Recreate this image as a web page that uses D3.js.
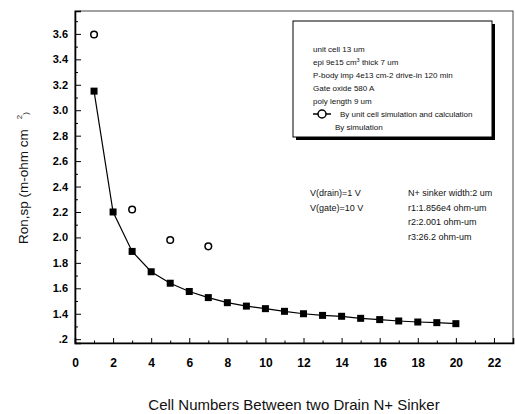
<!DOCTYPE html>
<html>
<head>
<meta charset="utf-8">
<script src="https://cdn.jsdelivr.net/npm/d3@7"></script>
<style>
  body { margin: 0; background: #fff; }
  svg { display: block; font-family: "Liberation Sans", Arial, sans-serif; }
</style>
</head>
<body>
<div id="chart"></div>
<script>
// datos
var cells = [1, 2, 3, 4, 5, 6, 7, 8, 9, 10, 11, 12, 13, 14, 15, 16, 17, 18, 19, 20];
var ronSim = [3.15, 2.20, 1.89, 1.73, 1.64, 1.575, 1.527, 1.487, 1.46, 1.44,
              1.419, 1.40, 1.387, 1.38, 1.364, 1.354, 1.343, 1.335, 1.33, 1.322];
var calcCells = [1, 3, 5, 7];
var ronCalc = [3.595, 2.22, 1.98, 1.93];

var xTicks = [0, 2, 4, 6, 8, 10, 12, 14, 16, 18, 20, 22];
var yTicks = [1.2, 1.4, 1.6, 1.8, 2.0, 2.2, 2.4, 2.6, 2.8, 3.0, 3.2, 3.4, 3.6];
var yTickLabels = [".2", "1.4", "1.6", "1.8", "2.0", "2.2", "2.4", "2.6", "2.8", "3.0", "3.2", "3.4", "3.6"];

var legendLines = ["unit cell 13 um", "epi 9e15 cm", "P-body imp  4e13 cm-2 drive-in 120 min",
                   "Gate oxide 580 A", "poly length 9 um"];
var noteLeft = ["V(drain)=1 V", "V(gate)=10 V"];
var noteRight = ["N+ sinker width:2 um", "r1:1.856e4 ohm-um", "r2:2.001 ohm-um", "r3:26.2 ohm-um"];

var W = 515, H = 414;
var svg = d3.select("#chart").append("svg").attr("width", W).attr("height", H);

var x = d3.scaleLinear().domain([0, 23]).range([75, 513]);
var y = d3.scaleLinear().domain([1.17, 3.78]).range([343, 11]);

// marco
svg.append("rect")
    .attr("x", x(0)).attr("y", y(3.78))
    .attr("width", x(23) - x(0)).attr("height", y(1.17) - y(3.78))
    .attr("fill", "none").attr("stroke", "#444").attr("stroke-width", 1);

// ejes menores
svg.append("g")
    .attr("transform", "translate(" + x(0) + ",0)")
    .call(d3.axisLeft(y).tickValues(d3.range(1.3, 3.7, 0.2)).tickSize(-3).tickFormat(""))
    .call(function(g) { g.select(".domain").remove(); });
svg.append("g")
    .attr("transform", "translate(0," + y(1.17) + ")")
    .call(d3.axisBottom(x).tickValues(d3.range(1, 23, 2)).tickSize(-2.5).tickFormat(""))
    .call(function(g) { g.select(".domain").remove(); });

// ejes principales
var yAxis = svg.append("g")
    .attr("transform", "translate(" + x(0) + ",0)")
    .call(d3.axisLeft(y).tickValues(yTicks).tickSize(-6).tickPadding(7)
        .tickFormat(function(d, i) { return yTickLabels[i]; }));
var xAxis = svg.append("g")
    .attr("transform", "translate(0," + y(1.17) + ")")
    .call(d3.axisBottom(x).tickValues(xTicks).tickSize(-5).tickPadding(15));

[yAxis, xAxis].forEach(function(g) {
    g.select(".domain").attr("stroke-width", 1.6).attr("stroke", "#000");
    g.selectAll("text").attr("font-weight", "bold")
        .attr("font-family", "\"Liberation Sans\", Arial, sans-serif").attr("fill", "#000");
});
yAxis.selectAll("text").attr("font-size", 11);
xAxis.selectAll("text").attr("font-size", 12);
xAxis.selectAll(".tick").filter(function(d) { return d === 0; }).select("line").remove();
svg.selectAll(".tick line").attr("stroke", "#000").attr("stroke-width", 1);

// curva de simulacion
var sim = cells.map(function(c, i) { return {x: c, y: ronSim[i]}; });
svg.append("path")
    .datum(sim)
    .attr("fill", "none").attr("stroke", "#000").attr("stroke-width", 1.2)
    .attr("d", d3.line().x(function(d) { return x(d.x); }).y(function(d) { return y(d.y); }));
svg.selectAll("rect.sq")
    .data(sim).enter().append("rect").attr("class", "sq")
    .attr("x", function(d) { return x(d.x) - 3.5; })
    .attr("y", function(d) { return y(d.y) - 3.5; })
    .attr("width", 7).attr("height", 7).attr("fill", "#000");

// puntos de calculo
svg.selectAll("circle.calc")
    .data(calcCells.map(function(c, i) { return {x: c, y: ronCalc[i]}; }))
    .enter().append("circle").attr("class", "calc")
    .attr("cx", function(d) { return x(d.x); })
    .attr("cy", function(d) { return y(d.y); })
    .attr("r", 3.3).attr("fill", "#fff").attr("stroke", "#000").attr("stroke-width", 1.5);

// caja de leyenda
svg.append("rect").attr("x", 296).attr("y", 24).attr("width", 199).attr("height", 116).attr("fill", "#000");
svg.append("rect").attr("x", 293).attr("y", 21).attr("width", 199).attr("height", 116)
    .attr("fill", "#fff").attr("stroke", "#000").attr("stroke-width", 1);

var leg = svg.append("g").attr("font-size", 8).attr("fill", "#111");
leg.selectAll("text.l")
    .data(legendLines).enter().append("text").attr("class", "l")
    .attr("x", 313)
    .attr("y", function(d, i) { return 52 + i * 13; })
    .text(function(d) { return d; });
leg.select("text.l:nth-of-type(2)")
    .call(function(t) {
        t.append("tspan").attr("font-size", 5.5).attr("dy", -3).text("3");
        t.append("tspan").attr("dy", 3).text(" thick 7 um");
    });
leg.append("line").attr("x1", 313).attr("x2", 331).attr("y1", 114).attr("y2", 114)
    .attr("stroke", "#000").attr("stroke-width", 1.5);
leg.append("circle").attr("cx", 322).attr("cy", 114).attr("r", 4)
    .attr("fill", "#fff").attr("stroke", "#000").attr("stroke-width", 1.5);
leg.append("text").attr("x", 340).attr("y", 117).text("By unit cell simulation and calculation");
leg.append("text").attr("x", 335).attr("y", 130).text("By simulation");

// notas
var notes = svg.append("g").attr("font-size", 9).attr("fill", "#111");
notes.selectAll("text.nl").data(noteLeft).enter().append("text").attr("class", "nl")
    .attr("x", 310).attr("y", function(d, i) { return 196 + i * 14.5; })
    .text(function(d) { return d; });
notes.selectAll("text.nr").data(noteRight).enter().append("text").attr("class", "nr")
    .attr("x", 408).attr("y", function(d, i) { return 196 + i * 14.5; })
    .text(function(d) { return d; });

// titulos
svg.append("text")
    .attr("x", 294).attr("y", 410)
    .attr("text-anchor", "middle").attr("font-size", 15).attr("fill", "#111")
    .text("Cell Numbers Between two Drain N+ Sinker");

var yt = svg.append("text")
    .attr("transform", "translate(28,178) rotate(-90)")
    .attr("text-anchor", "middle").attr("font-size", 13.5).attr("fill", "#111");
yt.append("tspan").text("Ron,sp (m-ohm cm");
yt.append("tspan").attr("font-size", 8).attr("dx", 10).attr("dy", -6).text("2");
yt.append("tspan").attr("font-size", 8).attr("dy", 6).text(")");
</script>
</body>
</html>
